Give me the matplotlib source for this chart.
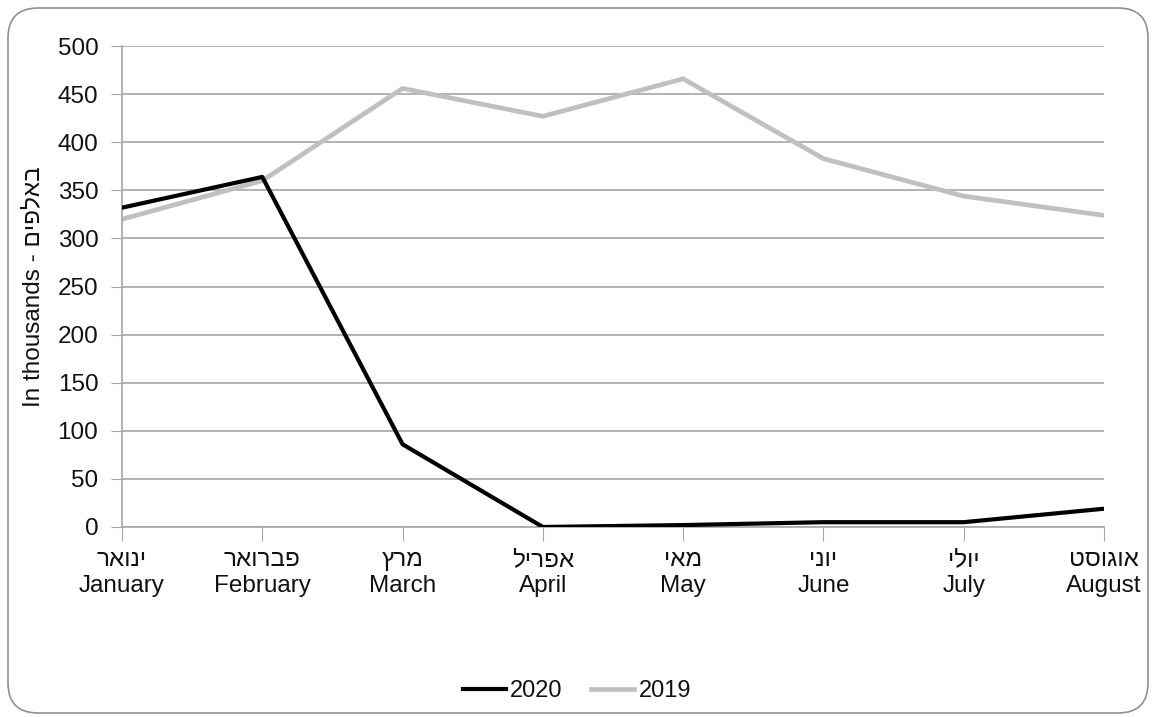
import matplotlib
matplotlib.use('Agg')
import matplotlib.pyplot as plt
from matplotlib.patches import FancyBboxPatch

plt.rcParams['font.family'] = ['Liberation Sans', 'DejaVu Sans']

# data (values in thousands)
months_he = ['ינואר', 'פברואר', 'מרץ', 'אפריל', 'מאי', 'יוני', 'יולי', 'אוגוסט']
months_en = ['January', 'February', 'March', 'April', 'May', 'June', 'July', 'August']
y2020 = [332, 364, 86, 0, 2, 5, 5, 19]
y2019 = [320, 360, 456, 427, 466, 383, 344, 324]

# matplotlib has no bidi, so hebrew is passed in visual order
def heb(s):
    return s[::-1]

labels = [heb(h) + '\n' + e for h, e in zip(months_he, months_en)]
x = list(range(len(months_en)))

fig = plt.figure(figsize=(11.54, 7.17), dpi=100)
ax = fig.add_axes([0.1057, 0.265, 0.851, 0.6707])

grid_c = '#a6a6a6'
txt_c = '#111111'
fs = 17.5
ax.plot(x, y2020, color='black', lw=3, label='2020', zorder=3)
ax.plot(x, y2019, color='#c0c0c0', lw=3.4, label='2019', zorder=2)

ax.set_xlim(0, 7)
ax.set_ylim(0, 500)
ax.set_yticks(range(0, 501, 50))
ax.set_xticks(x)
ax.set_xticklabels(labels, fontsize=fs, linespacing=1.25, color=txt_c)
ax.tick_params(axis='y', labelsize=fs, length=8, color=grid_c, pad=9, labelcolor=txt_c)
ax.tick_params(axis='x', length=10, color=grid_c, pad=6)
ax.yaxis.grid(True, color=grid_c, lw=1.2)
ax.set_axisbelow(True)
for s in ['top', 'right']:
    ax.spines[s].set_visible(False)
for s in ['left', 'bottom']:
    ax.spines[s].set_color(grid_c)
    ax.spines[s].set_linewidth(1.2)

ax.set_ylabel('In thousands - ' + heb('באלפים'), fontsize=fs, labelpad=10, color=txt_c)

fig.legend(loc='center', bbox_to_anchor=(0.5, 0.036), ncol=2, frameon=False,
           fontsize=17, handlelength=1.8, handletextpad=0.2, columnspacing=1.2,
           labelcolor=txt_c)

# rounded outer border
border = FancyBboxPatch((0.08, 0.04), 11.40, 7.05,
                        boxstyle='round,pad=0,rounding_size=0.3',
                        transform=fig.dpi_scale_trans, fill=False,
                        edgecolor='#909090', lw=1.2)
fig.patches.append(border)

fig.savefig('out.png', dpi=100)
